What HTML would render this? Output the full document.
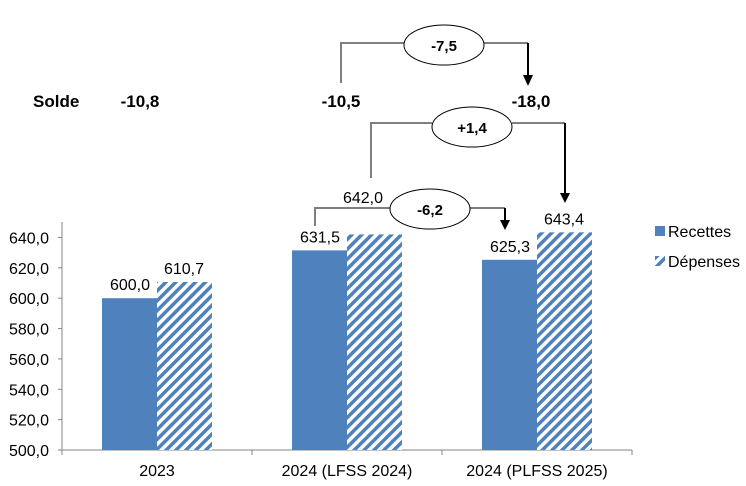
<!DOCTYPE html>
<html><head><meta charset="utf-8"><style>
body{margin:0;background:#fff;}
svg{display:block;font-family:"Liberation Sans","DejaVu Sans",sans-serif;}
</style></head><body>
<svg id="chart" width="746" height="486" viewBox="0 0 746 486">
<defs>
<pattern id="hatch" patternUnits="userSpaceOnUse" width="7" height="7" patternTransform="rotate(45)">
<rect width="7" height="7" fill="#fff"/><rect width="3.5" height="7" fill="#4f81bd"/>
</pattern>
</defs>
<g id="axes"></g><g id="bars"></g>
<g>
<rect x="655" y="226" width="10" height="10" fill="#4f81bd"/>
<text x="668" y="237" font-size="16">Recettes</text>
<rect x="655" y="256" width="10" height="10" fill="url(#hatch)"/>
<text x="668" y="267" font-size="16">Dépenses</text>
</g>
<g font-weight="bold" font-size="17">
<text x="33" y="107">Solde</text>
<text x="140" y="107" text-anchor="middle">-10,8</text>
<text x="341" y="107" text-anchor="middle">-10,5</text>
<text x="531" y="107" text-anchor="middle">-18,0</text>
</g>
<g stroke="#7f7f7f" stroke-width="2" fill="none">
<polyline points="341,83 341,43 405,43"/><line x1="484" y1="43" x2="528" y2="43"/>
<polyline points="371,178 371,123 432,123"/><line x1="512" y1="123" x2="565" y2="123"/>
<polyline points="315,226 315,208 391,208"/><line x1="470" y1="208" x2="505" y2="208"/>
</g>
<g stroke="#000" stroke-width="2" fill="#000">
<line x1="528" y1="43" x2="528" y2="78"/><polygon points="523,75 533,75 528,86" stroke="none"/>
<line x1="565" y1="123" x2="565" y2="195"/><polygon points="560,193 570,193 565,203" stroke="none"/>
<line x1="505" y1="208" x2="505" y2="222"/><polygon points="500,220 510,220 505,230" stroke="none"/>
</g>
<g font-weight="bold" font-size="15">
<ellipse cx="444" cy="45" rx="40" ry="20" fill="#fff" stroke="#000"/><text x="444" y="51" text-anchor="middle">-7,5</text>
<ellipse cx="472" cy="127" rx="40" ry="20" fill="#fff" stroke="#000"/><text x="472" y="133" text-anchor="middle">+1,4</text>
<ellipse cx="430" cy="209" rx="40" ry="20" fill="#fff" stroke="#000"/><text x="430" y="215" text-anchor="middle">-6,2</text>
</g>
<text x="363" y="203" font-size="16" text-anchor="middle">642,0</text>
<script>
const categories=["2023","2024 (LFSS 2024)","2024 (PLFSS 2025)"];
const recettes=[600.0,631.5,625.3];
const depenses=[610.7,642.0,643.4];
const ticks=[500,520,540,560,580,600,620,640];
const fmt=v=>v.toFixed(1).replace('.',',');
const NS="http://www.w3.org/2000/svg";
const X0=62,BAND=190,YB=450,K=1.518;
const y=v=>YB-(v-500)*K;
const xc=i=>X0+BAND*i+BAND/2;
function mk(t,a,p){const e=document.createElementNS(NS,t);for(const k in a)e.setAttribute(k,a[k]);p.appendChild(e);return e;}
const ax=document.getElementById('axes'),bg=document.getElementById('bars');
let l=mk('line',{x1:X0,y1:222,x2:X0,y2:YB,stroke:'#868686'},ax);


l=mk('line',{x1:X0,y1:YB,x2:X0+BAND*3,y2:YB,stroke:'#868686'},ax);


ticks.forEach(t=>{
 mk('line',{x1:X0-4,y1:y(t),x2:X0,y2:y(t),stroke:'#868686'},ax);
 const tx=mk('text',{x:X0-13,y:y(t)+6,'text-anchor':'end','font-size':16},ax);tx.textContent=fmt(t);
 
 
});
for(let i=0;i<=3;i++)mk('line',{x1:X0+BAND*i,y1:YB,x2:X0+BAND*i,y2:YB+5,stroke:'#868686'},ax);
categories.forEach((c,i)=>{
 const tx=mk('text',{x:xc(i),y:YB+26,'text-anchor':'middle','font-size':16},ax);tx.textContent=c;
 
 
 const r=mk('rect',{x:xc(i)-55,y:y(recettes[i]),width:55,height:YB-y(recettes[i]),fill:'#4f81bd'},bg);
 
 
 const d=mk('rect',{x:xc(i),y:y(depenses[i]),width:55,height:YB-y(depenses[i]),fill:'url(#hatch)'},bg);
 
 
 const t1=mk('text',{x:xc(i)-27,y:y(recettes[i])-8,'text-anchor':'middle','font-size':16},bg);t1.textContent=fmt(recettes[i]);
 
 
 if(i!==1){const t2=mk('text',{x:xc(i)+27,y:y(depenses[i])-8,'text-anchor':'middle','font-size':16},bg);t2.textContent=fmt(depenses[i]);
 
 }
});
</script>
</svg>
</body></html>
